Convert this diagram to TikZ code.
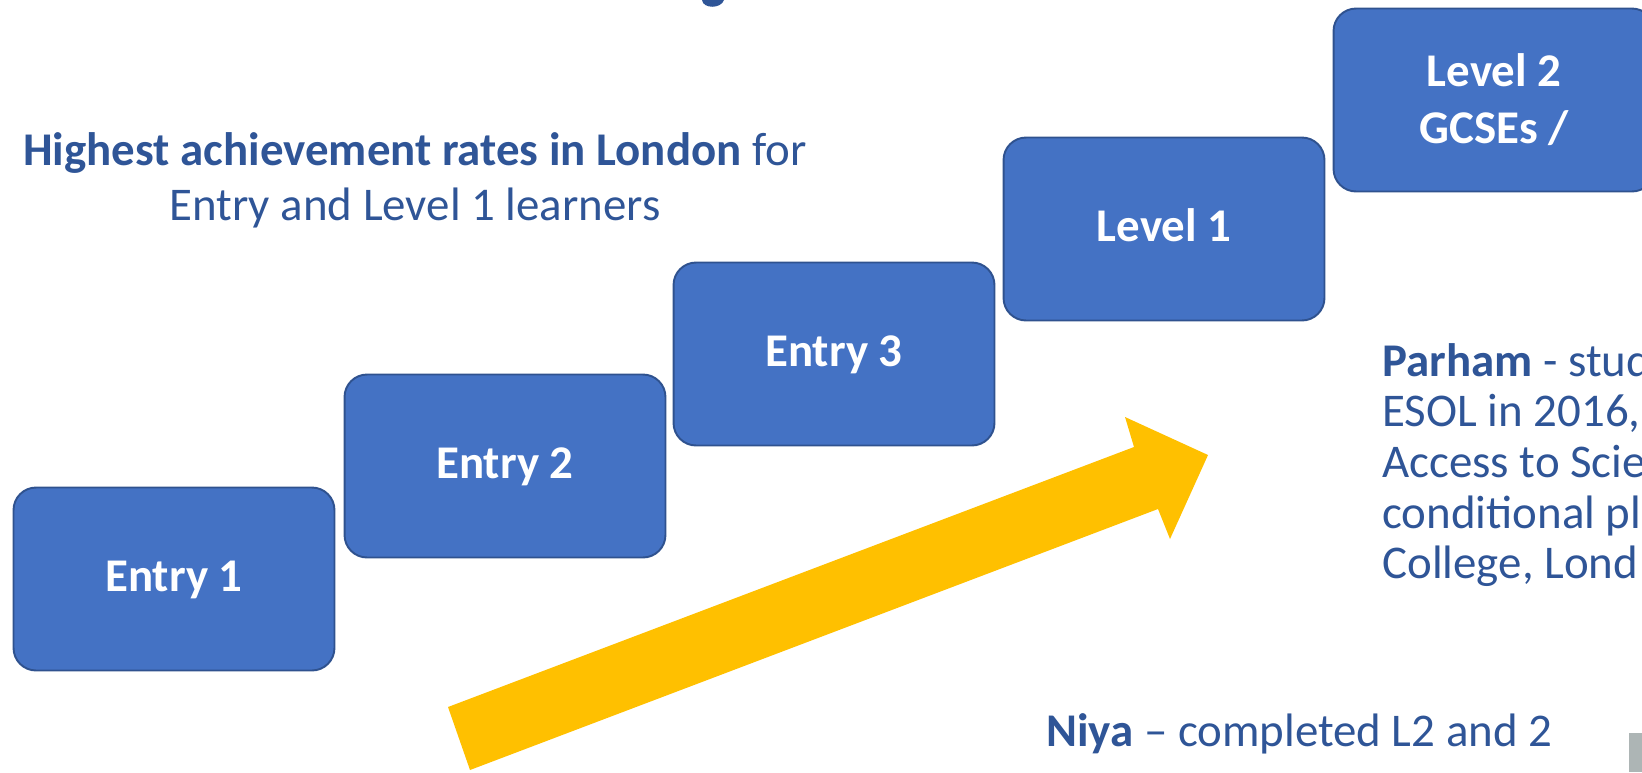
\documentclass[tikz,border=0pt]{standalone}
\usepackage{fontspec}
\setmainfont{Carlito}
\usepackage{xcolor}
\usetikzlibrary{positioning}

\definecolor{stepblue}{HTML}{4472C4}
\definecolor{stepline}{HTML}{2F528F}
\definecolor{txtblue}{HTML}{2F5597}
\definecolor{arrowyellow}{HTML}{FFC000}
\definecolor{slidegray}{HTML}{ADB5B5}

\tikzset{
    levelbox/.style={rectangle, rounded corners=0.45cm, fill=stepblue, draw=stepline,
        line width=1.1pt, minimum width=6.42cm, minimum height=3.66cm, inner sep=0pt,
        text=white, text height=14pt, text depth=0pt,
        font=\fontsize{26.7}{32.5}\selectfont\bfseries},
    bodytext/.style={text=txtblue, inner sep=0pt, font=\fontsize{26.7}{28.8}\selectfont}
}

\begin{document}
\begin{tikzpicture}[x=0.02cm, y=-0.02cm]
        % Frame of the slide crop
        \useasboundingbox (0,0) rectangle (1642,772);
        \clip (0,0) rectangle (1642,772);

        % Tail of the title letter cut off at the top
        \fill[txtblue] (702,0) .. controls (703,9) and (721,9) .. (724,0) -- cycle;

        % Rising arrow behind the steps
        \fill[arrowyellow] (448,707) -- (1134,447) -- (1125,417) -- (1208,455)
            -- (1170,539) -- (1158,509) -- (470,770) -- cycle;

        % The steps, lowest first
        \node[levelbox] (entry1) at (174,579) {Entry 1};
        \node[levelbox] (entry2) at (505,466) {Entry 2};
        \node[levelbox] (entry3) at (834,354) {Entry 3};
        \node[levelbox] (level1) at (1164,229) {Level 1};
        \node[levelbox, align=center, text height={}, text depth={}] (level2) at (1494,100)
            {Level 2\\GCSEs /};

        % Headline text on the left
        \node[bodytext, align=center, font=\fontsize{26.7}{31.3}\selectfont] (headline) at (415,180)
            {\textbf{Highest achievement rates in London} for\\Entry and Level 1 learners};

        % Learner stories
        \node[bodytext, align=left, anchor=west] (parham) at (1382,465)
            {\textbf{Parham} - stud\\ESOL in 2016,\\Access to Scie\\conditional pl\\College, Lond};
        \node[bodytext, anchor=base west] (niya) at (1046,746)
            {\textbf{Niya} -- completed L2 and 2};

        % Edge of a grey panel in the corner
        \fill[slidegray] (1629,733) rectangle (1642,772);
\end{tikzpicture}
\end{document}
